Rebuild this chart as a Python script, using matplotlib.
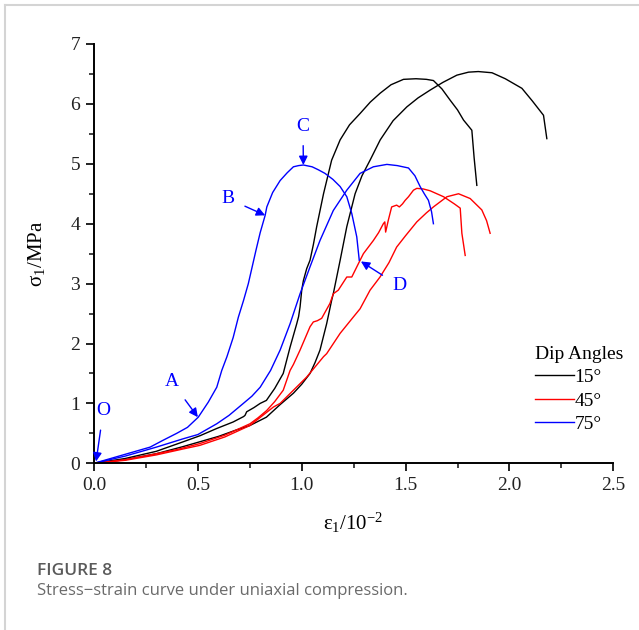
import matplotlib
matplotlib.use("Agg")
import matplotlib.pyplot as plt
from matplotlib.lines import Line2D
from matplotlib.ticker import MultipleLocator, FormatStrFormatter

SERIF = ['Liberation Serif', 'DejaVu Serif']
plt.rcParams['font.family'] = SERIF
plt.rcParams['mathtext.fontset'] = 'custom'
plt.rcParams['mathtext.rm'] = 'Liberation Serif'
plt.rcParams['mathtext.it'] = 'Liberation Serif:italic'
plt.rcParams['mathtext.default'] = 'rm'

# ---------------- data (strain 1e-2, stress MPa) ----------------
x_15a = [0, 0.15, 0.30, 0.43, 0.51, 0.59, 0.67, 0.72, 0.727, 0.735, 0.77, 0.80, 0.83, 0.87,
         0.911, 0.944, 0.976, 0.985, 0.992, 1.0, 1.008, 1.024, 1.04, 1.056, 1.072, 1.105,
         1.144, 1.185, 1.23, 1.281, 1.33, 1.378, 1.43, 1.49, 1.55, 1.60, 1.634, 1.675,
         1.715, 1.75, 1.779, 1.805, 1.819, 1.83, 1.843]
y_15a = [0, 0.08, 0.20, 0.36, 0.46, 0.58, 0.69, 0.78, 0.80, 0.86, 0.93, 1.00, 1.05, 1.25,
         1.50, 1.94, 2.33, 2.45, 2.61, 2.89, 3.05, 3.25, 3.39, 3.65, 3.95, 4.50,
         5.06, 5.40, 5.65, 5.84, 6.03, 6.18, 6.32, 6.41, 6.42, 6.41, 6.39, 6.25,
         6.06, 5.90, 5.73, 5.62, 5.56, 5.10, 4.64]

x_15b = [0, 0.15, 0.30, 0.43, 0.51, 0.60, 0.68, 0.75, 0.83, 0.896, 0.96, 1.0, 1.04, 1.064,
         1.088, 1.12, 1.144, 1.152, 1.185, 1.217, 1.257, 1.29, 1.329, 1.378, 1.44, 1.506,
         1.56, 1.618, 1.68, 1.747, 1.803, 1.85, 1.916, 1.98, 2.06, 2.11, 2.164, 2.18]
y_15b = [0, 0.06, 0.16, 0.28, 0.36, 0.45, 0.55, 0.63, 0.77, 0.98, 1.17, 1.32, 1.50, 1.68,
         1.89, 2.33, 2.72, 2.83, 3.39, 3.95, 4.50, 4.80, 5.06, 5.40, 5.72, 5.95,
         6.10, 6.23, 6.36, 6.48, 6.53, 6.54, 6.52, 6.42, 6.26, 6.05, 5.81, 5.42]

x_45a = [0, 0.15, 0.27, 0.40, 0.51, 0.63, 0.751, 0.79, 0.831, 0.87, 0.911, 0.944, 0.96,
         0.992, 1.04, 1.056, 1.075, 1.096, 1.136, 1.152, 1.176, 1.217, 1.241, 1.281, 1.297,
         1.345, 1.37, 1.393, 1.40, 1.404, 1.417, 1.433, 1.457, 1.47, 1.485, 1.498, 1.514,
         1.538, 1.554, 1.585, 1.618, 1.683, 1.735, 1.763, 1.767, 1.771, 1.787]
y_45a = [0, 0.06, 0.14, 0.23, 0.33, 0.47, 0.66, 0.76, 0.88, 1.03, 1.22, 1.55, 1.65,
         1.89, 2.28, 2.36, 2.38, 2.42, 2.67, 2.83, 2.89, 3.11, 3.11, 3.39, 3.50,
         3.72, 3.85, 4.00, 4.03, 3.86, 4.06, 4.28, 4.31, 4.28, 4.33, 4.39, 4.45,
         4.56, 4.59, 4.58, 4.55, 4.45, 4.33, 4.26, 4.05, 3.84, 3.47]

x_45b = [0, 0.15, 0.30, 0.43, 0.51, 0.63, 0.75, 0.864, 0.896, 0.992, 1.024, 1.105, 1.12,
         1.185, 1.248, 1.281, 1.329, 1.377, 1.42, 1.457, 1.50, 1.554, 1.60, 1.634, 1.699,
         1.755, 1.811, 1.867, 1.89, 1.907]
y_45b = [0, 0.05, 0.14, 0.24, 0.30, 0.44, 0.63, 0.94, 1.00, 1.33, 1.44, 1.78, 1.83,
         2.17, 2.44, 2.58, 2.89, 3.11, 3.35, 3.61, 3.80, 4.03, 4.18, 4.28, 4.45,
         4.50, 4.42, 4.23, 4.05, 3.84]

x_75a = [0, 0.1, 0.2, 0.27, 0.33, 0.398, 0.45, 0.502, 0.55, 0.591, 0.615, 0.64, 0.67,
         0.695, 0.72, 0.743, 0.78, 0.80, 0.824, 0.832, 0.86, 0.896, 0.93, 0.96, 0.985,
         1.008, 1.05, 1.08, 1.112, 1.15, 1.185, 1.217, 1.241, 1.265, 1.277]
y_75a = [0, 0.10, 0.20, 0.27, 0.38, 0.50, 0.60, 0.77, 1.02, 1.27, 1.55, 1.78, 2.10,
         2.44, 2.72, 3.00, 3.56, 3.85, 4.14, 4.28, 4.52, 4.72, 4.85, 4.95, 4.97,
         4.98, 4.95, 4.90, 4.84, 4.74, 4.62, 4.45, 4.17, 3.78, 3.39]

x_75b = [0, 0.15, 0.30, 0.43, 0.50, 0.591, 0.65, 0.719, 0.76, 0.80, 0.85, 0.896, 0.944,
         0.992, 1.04, 1.088, 1.152, 1.217, 1.281, 1.345, 1.41, 1.46, 1.514, 1.545, 1.57,
         1.59, 1.61, 1.625, 1.634]
y_75b = [0, 0.12, 0.27, 0.41, 0.48, 0.66, 0.80, 1.00, 1.12, 1.27, 1.55, 1.89, 2.33,
         2.83, 3.28, 3.72, 4.22, 4.56, 4.84, 4.95, 4.99, 4.97, 4.93, 4.80, 4.62,
         4.50, 4.39, 4.20, 4.00]

legend_labels = ['15°', '45°', '75°']
legend_title = 'Dip Angles'
x_ticks = [0.0, 0.5, 1.0, 1.5, 2.0, 2.5]
y_ticks = [0, 1, 2, 3, 4, 5, 6, 7]

# annotation points: label, text position, arrow tip
ann_labels = ['O', 'A', 'B', 'C', 'D']
ann_text_xy = [(0.045, 0.88), (0.375, 1.36), (0.645, 4.42), (1.006, 5.63), (1.47, 2.96)]
ann_tip_xy = [(0.01, 0.03), (0.50, 0.77), (0.824, 4.14), (1.008, 4.98), (1.285, 3.37)]

# ---------------- figure ----------------
W, H = 639, 630
fig = plt.figure(figsize=(W / 100, H / 100), dpi=100)
ax = fig.add_axes([94 / W, 1 - 463.3 / H, (613.3 - 94) / W, (463.3 - 44) / H])

lw = 1.0
c_black, c_red, c_blue = '#000000', '#ff0000', '#0000ff'
ax.plot(x_15a, y_15a, color=c_black, lw=lw, label=legend_labels[0])
ax.plot(x_15b, y_15b, color=c_black, lw=lw)
ax.plot(x_45a, y_45a, color=c_red, lw=lw, label=legend_labels[1])
ax.plot(x_45b, y_45b, color=c_red, lw=lw)
ax.plot(x_75a, y_75a, color=c_blue, lw=lw, label=legend_labels[2])
ax.plot(x_75b, y_75b, color=c_blue, lw=lw)

ax.set_xlim(0, 2.5)
ax.set_ylim(0, 7)
ax.set_xticks(x_ticks)
ax.set_yticks(y_ticks)
ax.xaxis.set_major_formatter(FormatStrFormatter('%.1f'))
ax.xaxis.set_minor_locator(MultipleLocator(0.25))
ax.yaxis.set_minor_locator(MultipleLocator(0.5))
for s in ['top', 'right']:
    ax.spines[s].set_visible(False)
for s in ['left', 'bottom']:
    ax.spines[s].set_linewidth(1.4)
ax.tick_params(which='major', direction='out', length=6, width=1.4, labelsize=14,
               colors='#222222', pad=4)
ax.tick_params(which='minor', direction='out', length=3.5, width=1.2, colors='#222222')
for lab in ax.get_xticklabels() + ax.get_yticklabels():
    lab.set_fontfamily(SERIF)

ax.set_ylabel('σ$_1$/MPa', fontsize=15, labelpad=17, family=SERIF)
ax.set_xlabel('ε$_1$/10$^{-2}$', fontsize=15, labelpad=12, family=SERIF)

for lab, (tx, ty), (px, py) in zip(ann_labels, ann_text_xy, ann_tip_xy):
    ax.annotate(lab, xy=(px, py), xytext=(tx, ty), color=c_blue, fontsize=14,
                ha='center', va='center', family=SERIF,
                arrowprops=dict(arrowstyle='-|>', color=c_blue, lw=1.0,
                                mutation_scale=13, shrinkA=6, shrinkB=0))

leg = ax.legend(title=legend_title, loc='upper left',
                bbox_to_anchor=((521 - 94) / (613.3 - 94), (463.3 - 332) / (463.3 - 44)),
                frameon=False, prop={'family': SERIF, 'size': 14}, title_fontsize=14,
                handlelength=2.05, handletextpad=0.0, labelspacing=0.3, borderpad=0.2)
leg._legend_box.align = 'left'
leg.get_title().set_fontfamily(SERIF)

# caption
fig.text(37 / W, 1 - 571 / H, 'FIGURE 8', fontsize=12.5, color='#5a5a5a',
         family=['Open Sans', 'DejaVu Sans'], fontweight='semibold', va='center', ha='left')
fig.text(37 / W, 1 - 591 / H, 'Stress−strain curve under uniaxial compression.',
         fontsize=12, color='#6a6a6a', family=['Open Sans', 'DejaVu Sans'],
         va='center', ha='left')

# card border (top and left)
fig.add_artist(Line2D([4.5 / W, 1], [1 - 4.5 / H, 1 - 4.5 / H], transform=fig.transFigure,
                      color='#d4d4d4', lw=1.5))
fig.add_artist(Line2D([4.5 / W, 4.5 / W], [0, 1 - 4.5 / H], transform=fig.transFigure,
                      color='#d4d4d4', lw=1.5))

fig.savefig('out.png', dpi=100)
